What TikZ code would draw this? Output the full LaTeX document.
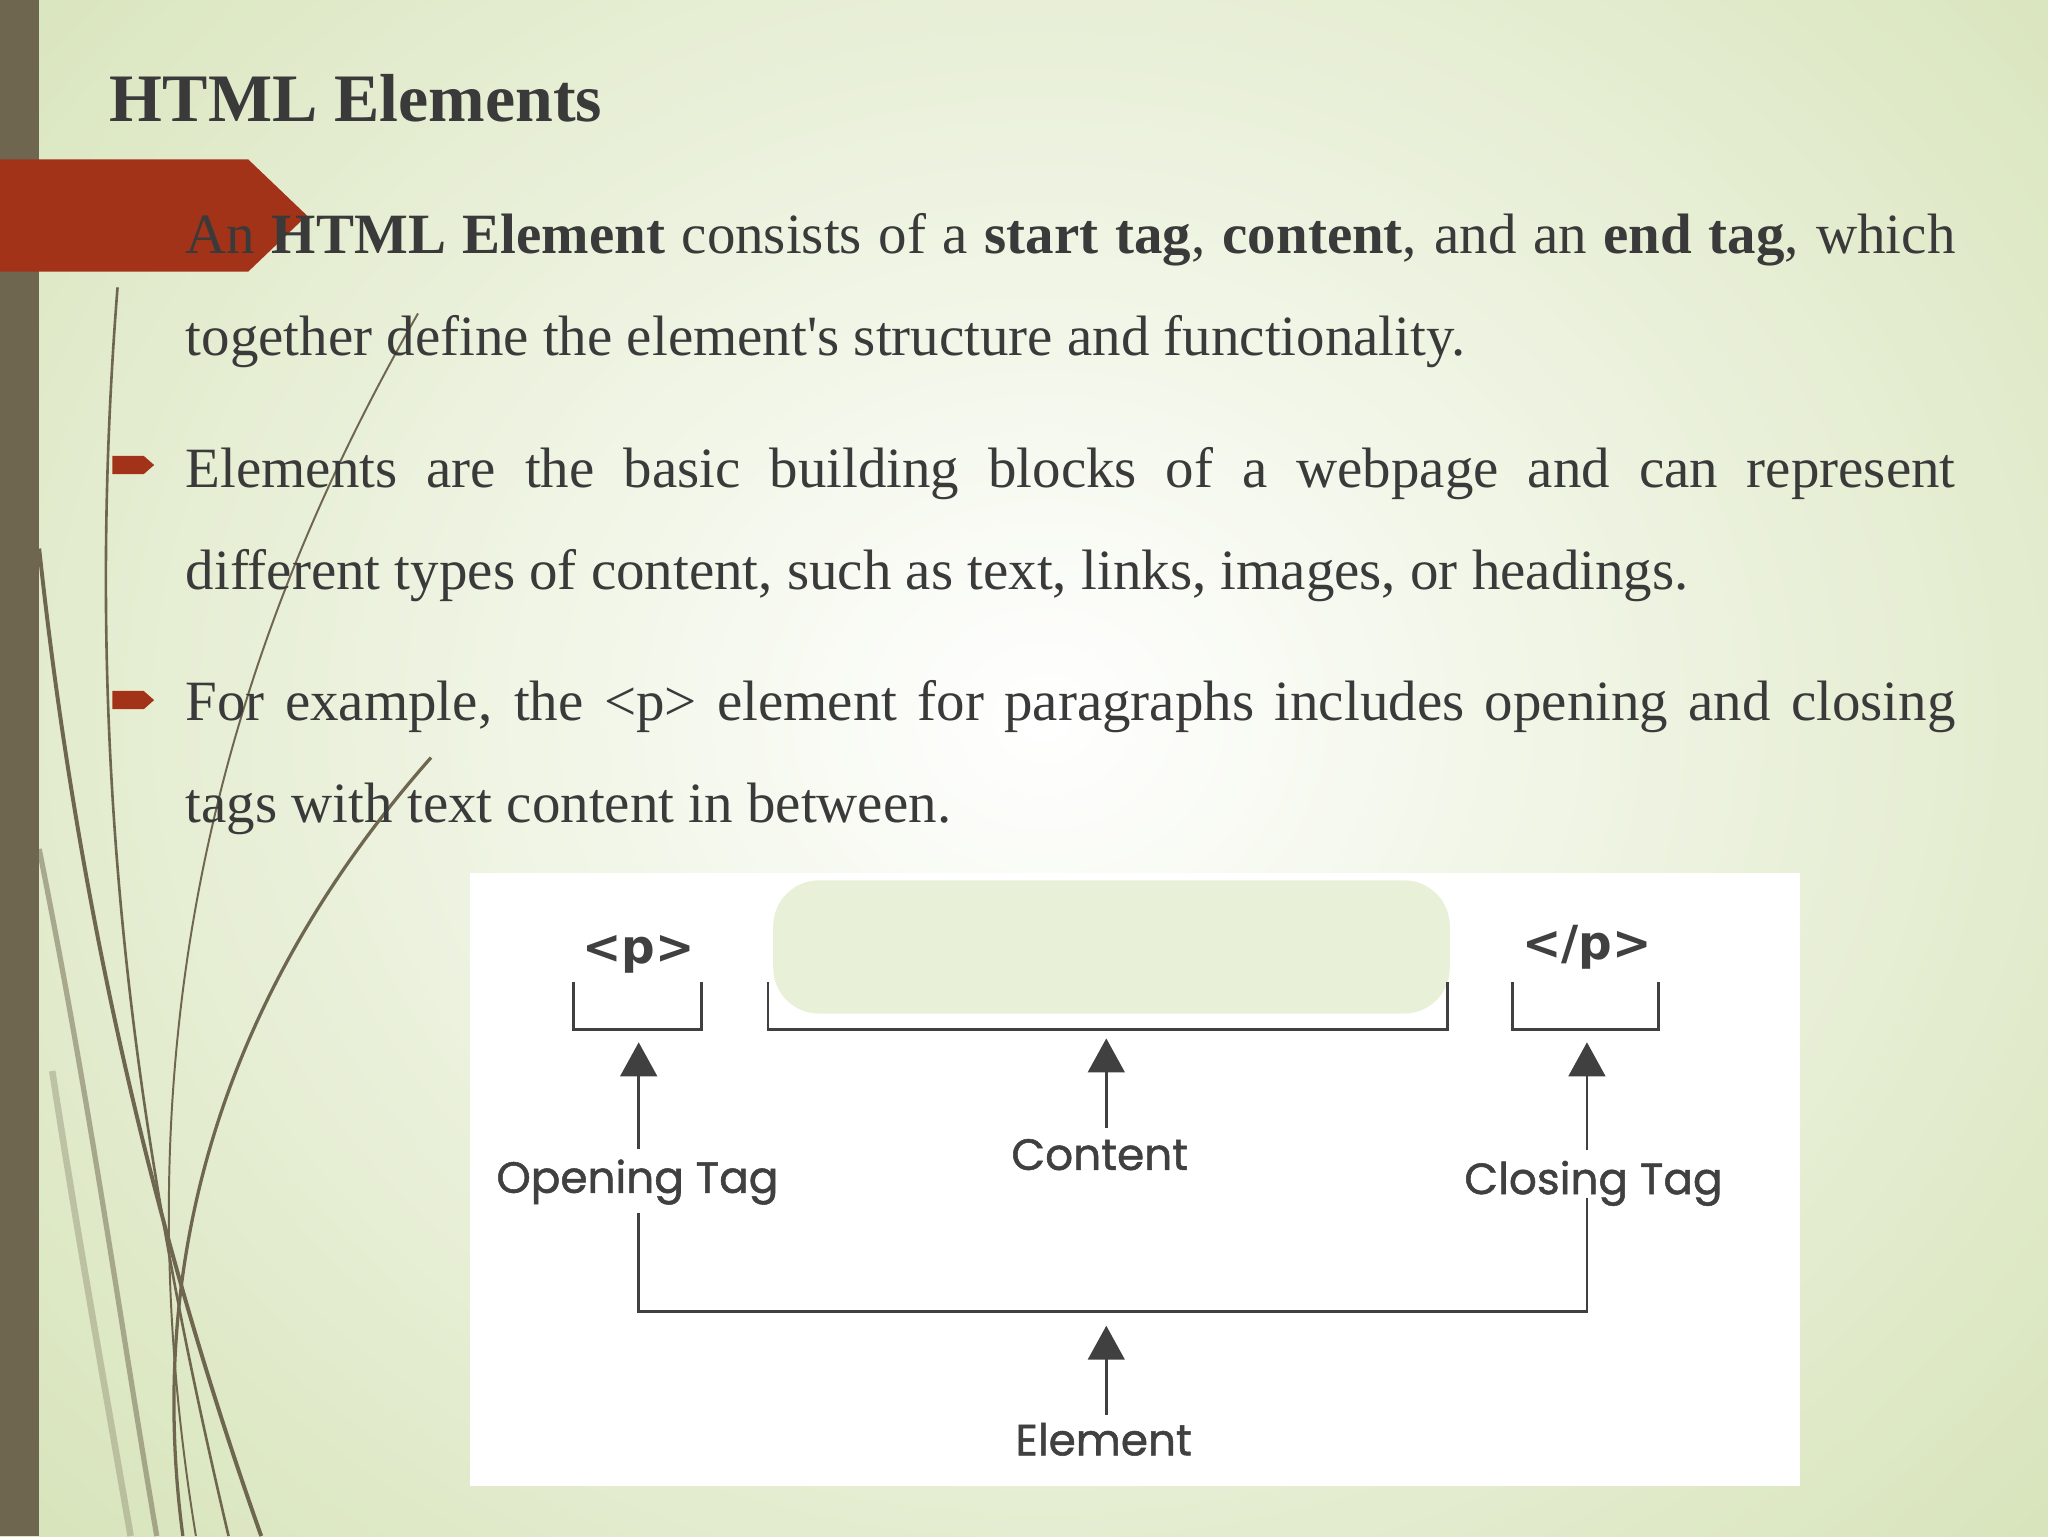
\documentclass[tikz,border=0pt]{standalone}
\usepackage{fontspec}
\setmainfont{Liberation Serif}
\newfontfamily\diafont[FakeBold=1.2]{Poppins}
\newfontfamily\tagfont{DejaVu Sans}
\usetikzlibrary{arrows.meta}
\definecolor{olive}{HTML}{6F6650}
\definecolor{redtag}{HTML}{A23218}
\definecolor{txt}{HTML}{3A3A3A}
\definecolor{bgedge}{HTML}{D6E3B8}
\definecolor{dia}{HTML}{404040}
\begin{document}
\begin{tikzpicture}[x=1pt,y=-1pt,
  para/.style={anchor=base west,inner sep=0pt,text width=1355pt,align=justify,font=\fontsize{43.6}{78}\selectfont,text=txt},
  lbl/.style={font=\diafont\fontsize{33.5}{36}\selectfont,text=dia,inner sep=0pt},
  tagl/.style={font=\tagfont\fontsize{36}{38}\selectfont\bfseries,text=dia,inner sep=0pt},
  brk/.style={draw=dia,line width=2.2pt},
  upar/.style={draw=dia,line width=2.2pt,-{Triangle[length=26pt,width=28pt]}},
  deco/.style={draw=olive,line width=2pt},
  bullet/.style={fill=redtag}]
\useasboundingbox (0,0) rectangle (1568,1176);
\shade[inner color=white,outer color=bgedge] (-300,-400) rectangle (1900,1500);
\clip (0,0) rectangle (1568,1176);
% left bar
\fill[olive] (0,0) rectangle (30,1176);
% decorative curves
\draw[deco] (90,220) .. controls (60,600) and (110,900) .. (175,1176);
\draw[deco,line width=3pt] (30,420) .. controls (60,700) and (120,950) .. (200,1176);
\draw[deco,line width=1.5pt] (320,240) .. controls (200,450) and (80,750) .. (150,1176);
\draw[deco,line width=2.5pt] (330,580) .. controls (180,750) and (110,950) .. (140,1176);
\draw[deco,draw opacity=0.5,line width=4pt] (30,650) .. controls (70,850) and (90,1000) .. (120,1176);
\draw[deco,draw opacity=0.3,line width=5pt] (40,820) .. controls (60,950) and (80,1060) .. (100,1176);
% red arrow
\fill[redtag] (0,122) -- (190,122) -- (235,165) -- (190,208) -- (0,208) -- cycle;
% title
\node[anchor=base west,inner sep=0pt,font=\fontsize{52}{56}\selectfont\bfseries,text=txt] (title) at (84,93) {HTML Elements};
% paragraphs
\node[para] (p1) at (142,194) {An \textbf{HTML Element} consists of a \textbf{start tag}, \textbf{content}, and an \textbf{end tag}, which together define the element\textquotesingle s structure and functionality.};
\node[para] (p2) at (142,373) {Elements are the basic building blocks of a webpage and can represent\linebreak different types of content, such as text, links, images, or headings.};
\node[para] (p3) at (142,552) {For example, the <p> element for paragraphs includes opening and closing\linebreak tags with text content in between.};
\fill[bullet] (86,349) -- (110,349) -- (118,356) -- (110,363) -- (86,363) -- cycle;
\fill[bullet] (86,529) -- (110,529) -- (118,536) -- (110,543) -- (86,543) -- cycle;
% diagram box
\fill[white] (360,668) rectangle (1378,1138);
\fill[bgedge!55,rounded corners=35pt] (592,674) rectangle (1110,776);
\node[tagl] (ptag) at (489,731) {<p>};
\node[tagl] (cptag) at (1215,725) {</p>};
\draw[brk] (439,752) -- (439,788) -- (537,788) -- (537,752);
\draw[brk] (588,752) -- (588,788) -- (1108,788) -- (1108,752);
\draw[brk] (1158,752) -- (1158,788) -- (1270,788) -- (1270,752);
\node[lbl] (open) at (488,905) {Opening Tag};
\node[lbl] (cont) at (842,884) {Content};
\node[lbl] (close) at (1220,906) {Closing Tag};
\node[lbl] (elem) at (845,1102) {Element};
\coordinate (a1) at (489,798); \coordinate (a2) at (847,795); \coordinate (a3) at (1215,798);
\coordinate (e1) at (847,1015);
\draw[upar] (open.north -| a1) ++(0,-8) -- (a1);
\draw[upar] (cont.north -| a2) ++(0,-8) -- (a2);
\draw[upar] (close.north -| a3) ++(0,-8) -- (a3);
\draw[upar] (elem.north -| e1) ++(0,-6) -- (e1);
\coordinate (b1) at (489,1004); \coordinate (b2) at (1215,1004);
\draw[brk] (open.south -| b1) ++(0,6) -- (b1) -- (b2) -- ([yshift=6pt]close.south -| b2);
\end{tikzpicture}
\end{document}
